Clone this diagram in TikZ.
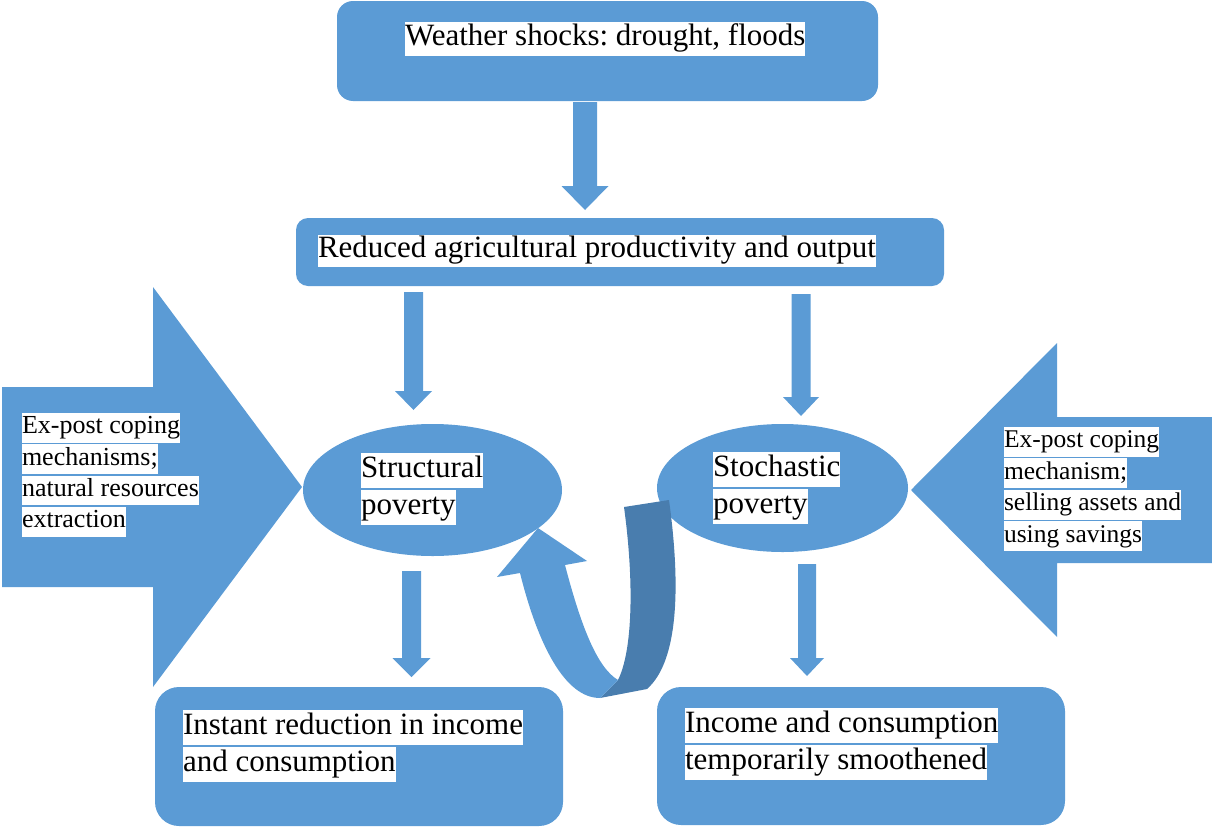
\documentclass[tikz,border=0pt]{standalone}
\usepackage{fontspec}
\setmainfont{Liberation Serif}
\usetikzlibrary{calc,shapes.geometric}
\definecolor{blu}{RGB}{91,155,213}
\definecolor{blud}{RGB}{73,125,174}
\newcommand\hl[1]{{\setlength\fboxsep{0pt}\colorbox{white}{\rule[-0.29\baselineskip]{0pt}{0.955\baselineskip}#1}}}
% block arrow pointing down: #1 start, #2 tip, #3 shaft half width, #4 head half width, #5 head length
\newcommand\blockdown[5]{%
  \fill[blu] let \p1=#1, \p2=#2 in
    (\x1-#3pt,\y1) -- (\x1+#3pt,\y1) -- (\x1+#3pt,\y2+#5pt) -- (\x1+#4pt,\y2+#5pt)
    -- (\x2,\y2) -- (\x1-#4pt,\y2+#5pt) -- (\x1-#3pt,\y2+#5pt) -- cycle;}
\frenchspacing
\begin{document}
\begin{tikzpicture}[x=1pt,y=-1pt,
  boxshape/.style={fill=blu,draw=none,inner sep=0pt,outer sep=0pt},
  lbl/.style={anchor=north west,inner sep=0pt,outer sep=0pt,align=left},
  big/.style={font=\fontsize{31}{37}\selectfont},
  small/.style={font=\fontsize{25.5}{31.4}\selectfont}]
\useasboundingbox (0,0) rectangle (1212,827);

% shapes
\node[boxshape,rounded corners=16pt,minimum width=541pt,minimum height=100pt] (top) at (607.5,51) {};
\node[boxshape,rounded corners=12pt,minimum width=648pt,minimum height=68pt] (agri) at (620,252) {};
\node[boxshape,ellipse,minimum width=259pt,minimum height=132pt] (struct) at (432.5,490) {};
\node[boxshape,ellipse,minimum width=251pt,minimum height=128pt] (stoch) at (782.5,488) {};
\node[boxshape,rounded corners=24pt,minimum width=408pt,minimum height=139pt] (instant) at (359,756.5) {};
\node[boxshape,rounded corners=24pt,minimum width=408pt,minimum height=138pt] (income) at (861,756) {};

% big side arrows
\coordinate (ltip) at (302,487);
\coordinate (rtip) at (911,490);
\fill[blu] (2,387) -- (153,387) -- (153,287) -- (ltip) -- (153,687) -- (153,587) -- (2,587) -- cycle;
\fill[blu] (1212,417) -- (1057,417) -- (1057,343) -- (rtip) -- (1057,637) -- (1057,563) -- (1212,563) -- cycle;

% block arrows between nodes
\coordinate (a1s) at (585,102);   \coordinate (a1e) at (585,210);
\coordinate (a2s) at (413.5,292); \coordinate (a2e) at (413.5,410);
\coordinate (a3s) at (801,294);   \coordinate (a3e) at (801,416);
\coordinate (a4s) at (411.5,571); \coordinate (a4e) at (411.5,677);
\coordinate (a5s) at (807,564);   \coordinate (a5e) at (807,676);
\blockdown{(a1s)}{(a1e)}{12}{23.5}{24}
\blockdown{(a2s)}{(a2e)}{9.5}{18.5}{19}
\blockdown{(a3s)}{(a3e)}{9.5}{18}{19}
\blockdown{(a4s)}{(a4e)}{9.5}{19}{19}
\blockdown{(a5s)}{(a5e)}{9}{17}{18}

% curved U-turn arrow from stochastic to structural poverty
\coordinate (utip) at (538,528);
\fill[blud] (624,507) -- (669,500) .. controls (680,580) and (680,660) .. (647,689)
  -- (600,698) -- (618,680) .. controls (633,650) and (634,580) .. (624,507) -- cycle;
\fill[blu] (utip) -- (587,561) -- (565,565) .. controls (582,630) and (598,668) .. (618,680)
  -- (600,698) .. controls (565,698) and (538,645) .. (520,573) -- (497,577) -- cycle;

% texts
\node[lbl,font=\fontsize{31}{36}\selectfont] (toptext) at (405,22) {\hl{Weather shocks: drought, floods}};
\node[lbl,font=\fontsize{31}{33.5}\selectfont] (agritext) at (318,235) {\hl{Reduced agricultural productivity and output}};
\node[lbl,big] (structtext) at (361,453) {\hl{Structural}\\\hl{poverty}};
\node[lbl,big] (stochtext) at (713,452) {\hl{Stochastic}\\\hl{poverty}};
\node[lbl,small,font=\fontsize{26}{31.3}\selectfont] (ltext) at (22,413) {\hl{Ex-post coping}\\\hl{mechanisms;}\\\hl{natural resources}\\\hl{extraction}};
\node[lbl,small] (rtext) at (1004,427) {\hl{Ex-post coping}\\\hl{mechanism;}\\\hl{selling assets and}\\\hl{using savings}};
\node[lbl,big] (instanttext) at (183,710) {\hl{Instant reduction in income}\\\hl{and consumption}};
\node[lbl,big] (incometext) at (685,708) {\hl{Income and consumption}\\\hl{temporarily smoothened}};
\end{tikzpicture}
\end{document}
